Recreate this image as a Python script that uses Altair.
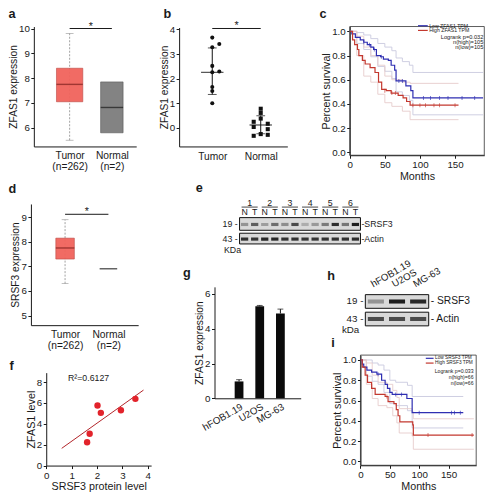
import altair as alt
import pandas as pd

S = 0.975
W, H = 477, 484
FONT = "Liberation Sans"
INK = "#1a1a1a"


def X(x):
    return round((x - 1.5) * S, 2)


def Y(y):
    return round((y - 4.0) * S, 2)


def F(sz):
    return round(sz * S, 2)


# ---------------- data ----------------
# a: ZFAS1 expression (GEPIA box plot)
a_tumor_box = [7.05, 7.75, 8.40]        # q1, median, q3
a_tumor_whisker = [5.50, 9.80]
a_normal_box = [5.80, 6.82, 7.85]
a_sig = 10.0
# b: ZFAS1 expression, tissue pairs
b_tumor = [3.67, 3.41, 3.28, 2.52, 2.26, 2.29, 1.66, 1.50, 1.00]
b_tumor_col = [0, 1, 0, 0, 0, 1, 0, 0, 0]
b_normal = [0.78, 0.61, 0.38, 0.25, 0.17, 0.04, -0.05, -0.32, -0.25, -0.28]
b_normal_col = [0, 0, 0, -1, 1, -1, 1, -1, 0, 1]
b_mean = [2.26, 0.12]
b_sd_low = [1.36, -0.24]
b_sd_high = [3.25, 0.50]
b_sig = 4.04
# c: survival by ZFAS1
c_low_t = [0, 3, 8, 15, 20, 25, 30, 34, 38, 44, 48, 55, 59, 64, 66, 72, 80, 87, 90, 190]
c_low_s = [1.0, 0.98, 0.95, 0.93, 0.91, 0.89, 0.87, 0.85, 0.80, 0.79, 0.77, 0.76, 0.72, 0.68, 0.59, 0.59, 0.55, 0.51, 0.45, 0.45]
c_high_t = [0, 4, 7, 11, 13, 18, 22, 29, 36, 41, 45.5, 52, 59, 69, 76, 81, 86, 155]
c_high_s = [1.0, 0.93, 0.89, 0.85, 0.80, 0.76, 0.73, 0.70, 0.66, 0.58, 0.52, 0.51, 0.49, 0.47, 0.45, 0.42, 0.39, 0.39]
c_low_ci_t = [0, 10, 20, 30, 40, 50, 60, 66, 75, 85, 90, 190]
c_low_ci_up = [1.0, 0.99, 0.97, 0.94, 0.90, 0.87, 0.84, 0.78, 0.75, 0.72, 0.66, 0.66]
c_low_ci_lo = [1.0, 0.90, 0.85, 0.79, 0.71, 0.67, 0.61, 0.50, 0.47, 0.43, 0.31, 0.31]
c_high_ci_t = [0, 10, 20, 30, 40, 50, 60, 75, 86, 155]
c_high_ci_up = [1.0, 0.96, 0.87, 0.80, 0.72, 0.63, 0.60, 0.58, 0.57, 0.57]
c_high_ci_lo = [1.0, 0.80, 0.63, 0.58, 0.48, 0.41, 0.38, 0.34, 0.27, 0.27]
c_low_cens_t = [20, 28, 35, 45, 70, 75, 105, 115, 128, 140, 160, 178]
c_low_cens_s = [0.91, 0.89, 0.85, 0.79, 0.59, 0.59, 0.45, 0.45, 0.45, 0.45, 0.45, 0.45]
c_high_cens_t = [50, 60, 65, 90, 100, 108, 120, 128, 150]
c_high_cens_s = [0.51, 0.49, 0.49, 0.39, 0.39, 0.39, 0.39, 0.39, 0.39]
# d: SRSF3 expression (GEPIA box plot)
d_tumor_box = [7.30, 7.75, 8.15]
d_tumor_whisker = [6.30, 8.90]
d_normal_level = 6.90
d_sig = 9.12
# e: western blot, 6 N/T pairs
e_pairs = ["1", "2", "3", "4", "5", "6"]
e_lanes = ["N", "T"] * 6
e_srsf3 = [0.35, 0.62, 0.30, 0.55, 0.38, 0.72, 0.22, 0.32, 0.48, 0.88, 0.50, 0.95]
e_actin = [0.85, 0.82, 0.90, 0.90, 0.85, 0.85, 0.82, 0.82, 0.85, 0.85, 0.85, 0.88]
# f: correlation
f_srsf3 = [1.61, 1.71, 2.02, 2.15, 2.94, 3.51]
f_zfas1 = [2.24, 3.05, 5.76, 5.05, 5.30, 6.39]
f_fit_x = [0.61, 3.83]
f_fit_y = [1.65, 7.23]
# g: cell lines
g_cells = ["hFOB1.19", "U2OS", "MG-63"]
g_vals = [0.97, 5.29, 4.88]
g_err = [0.10, 0.05, 0.25]
# h: western blot cell lines
h_srsf3 = [0.35, 0.95, 0.90]
h_actin = [0.72, 0.72, 0.72]
# i: survival by SRSF3
i_low_t = [0, 3, 5.6, 11, 19, 28, 36, 42, 46, 50, 54, 79, 88, 175]
i_low_s = [1.0, 0.96, 0.93, 0.90, 0.88, 0.86, 0.80, 0.76, 0.72, 0.68, 0.66, 0.62, 0.48, 0.48]
i_high_t = [0, 3, 8, 12, 19, 25, 42, 47, 57, 61, 64, 67, 89, 90, 193]
i_high_s = [1.0, 0.93, 0.85, 0.78, 0.72, 0.66, 0.64, 0.59, 0.57, 0.51, 0.45, 0.39, 0.36, 0.26, 0.26]
i_low_ci_t = [0, 10, 20, 30, 40, 50, 60, 80, 88, 175]
i_low_ci_up = [1.0, 1.0, 0.97, 0.95, 0.90, 0.80, 0.78, 0.75, 0.64, 0.64]
i_low_ci_lo = [1.0, 0.84, 0.79, 0.76, 0.68, 0.57, 0.55, 0.50, 0.33, 0.33]
i_high_ci_t = [0, 10, 20, 30, 45, 55, 62, 66, 88, 90, 193]
i_high_ci_up = [1.0, 0.97, 0.85, 0.78, 0.76, 0.70, 0.63, 0.52, 0.49, 0.42, 0.42]
i_high_ci_lo = [1.0, 0.76, 0.62, 0.55, 0.53, 0.45, 0.38, 0.28, 0.25, 0.12, 0.12]
i_low_cens_t = [30, 60, 70, 100, 155, 160, 170]
i_low_cens_s = [0.86, 0.66, 0.66, 0.48, 0.48, 0.48, 0.48]
i_high_cens_t = [45, 115, 190]
i_high_cens_s = [0.64, 0.26, 0.26]

RED_BOX = "#f1645c"
RED_EDGE = "#b9403a"
RED_MED = "#7d1f1c"
GRAY_BOX = "#838383"
KM_BLUE = "#2f2fb2"
KM_RED = "#c3382f"
CI_BLUE = "#cacadf"
CI_RED = "#e6cccc"
DOT_RED = "#e2232b"

one = pd.DataFrame({"k": [0]})


def axis_left(x_px, values, title, **kw):
    opts = dict(orient="left", offset=-X(x_px), values=values, title=title,
                tickSize=3, labelPadding=1.5, titlePadding=0, labelFlush=False,
                labelOverlap=False, labelBound=False)
    opts.update(kw)
    return alt.Axis(**opts)


def axis_bottom(y_px, values, title, **kw):
    opts = dict(orient="bottom", offset=round(Y(y_px) - H, 2), values=values, title=title,
                tickSize=3, labelPadding=1.5, titlePadding=2, labelFlush=False,
                labelOverlap=False, labelBound=False)
    opts.update(kw)
    return alt.Axis(**opts)


def text_at(txt, x_px, y_px, size=10, align="left", weight="normal", baseline="middle", angle=None):
    kw = dict(text=txt, fontSize=F(size), align=align, fontWeight=weight, baseline=baseline, color=INK, font=FONT)
    if angle is not None:
        kw["angle"] = angle
    return alt.Chart(one).mark_text(**kw).encode(x=alt.value(X(x_px)), y=alt.value(Y(y_px)))


def box_panel(xdom, xpx, ydom, ypx, yticks, ytitle, lab_expr, tbox, twhisk, tw, capw,
              nbox, nw, normal_line, sig):
    xs = alt.Scale(domain=xdom, range=[X(xpx[0]), X(xpx[1])], nice=False, zero=False)
    ys = alt.Scale(domain=ydom, range=[Y(ypx[0]), Y(ypx[1])], nice=False, zero=False)
    xa = axis_bottom(ypx[0], [0, 1], "", labelExpr=lab_expr, ticks=False, labelPadding=4,
                     labelLineHeight=F(11.5), labelFontSize=F(10.5), labelBaseline="top")
    ya = axis_left(xpx[0], yticks, ytitle)

    def ex(f):
        return alt.X(f"{f}:Q", scale=xs, axis=xa)

    def ey(f):
        return alt.Y(f"{f}:Q", scale=ys, axis=ya)

    layers = []
    wdf = pd.DataFrame({"pos": [0], "lo": [twhisk[0]], "hi": [twhisk[1]]})
    layers.append(alt.Chart(wdf).mark_rule(color="#8c8c8c", strokeWidth=0.8, strokeDash=[2, 1.5])
                  .encode(x=ex("pos"), y=ey("lo"), y2="hi:Q"))
    cdf = pd.DataFrame({"pos": [0, 0], "v": twhisk})
    layers.append(alt.Chart(cdf).mark_tick(orient="horizontal", size=capw, thickness=0.8, color="#8c8c8c")
                  .encode(x=ex("pos"), y=ey("v")))
    tdf = pd.DataFrame({"pos": [0], "q1": [tbox[0]], "med": [tbox[1]], "q3": [tbox[2]]})
    layers.append(alt.Chart(tdf).mark_bar(orient="vertical", size=tw, color=RED_BOX, stroke=RED_EDGE,
                                          strokeWidth=0.6, opacity=0.95)
                  .encode(x=ex("pos"), y=ey("q1"), y2="q3:Q"))
    layers.append(alt.Chart(tdf).mark_tick(orient="horizontal", size=tw, thickness=1.4, color=RED_MED)
                  .encode(x=ex("pos"), y=ey("med")))
    if normal_line:
        ndf = pd.DataFrame({"pos": [1], "med": [nbox]})
        layers.append(alt.Chart(ndf).mark_tick(orient="horizontal", size=nw, thickness=1.5, color="#222222")
                      .encode(x=ex("pos"), y=ey("med")))
    else:
        ndf = pd.DataFrame({"pos": [1], "q1": [nbox[0]], "med": [nbox[1]], "q3": [nbox[2]]})
        layers.append(alt.Chart(ndf).mark_bar(orient="vertical", size=nw, color=GRAY_BOX, stroke="#555555",
                                              strokeWidth=0.6)
                      .encode(x=ex("pos"), y=ey("q1"), y2="q3:Q"))
        layers.append(alt.Chart(ndf).mark_tick(orient="horizontal", size=nw, thickness=1.4, color="#1a1a1a")
                      .encode(x=ex("pos"), y=ey("med")))
    sdf = pd.DataFrame({"x1": [0], "x2": [1], "y": [sig], "mid": [0.5]})
    layers.append(alt.Chart(sdf).mark_rule(color=INK, strokeWidth=1)
                  .encode(x=ex("x1"), x2="x2:Q", y=ey("y")))
    layers.append(alt.Chart(sdf).mark_text(text="*", fontSize=F(11), baseline="middle", dy=-2, color=INK, font=FONT)
                  .encode(x=ex("mid"), y=ey("y")))
    return alt.layer(*layers)


def panel_b():
    xs = alt.Scale(domain=[-0.684, 1.549], range=[X(177), X(288)], nice=False, zero=False)
    ys = alt.Scale(domain=[-0.752, 4.08], range=[Y(146), Y(24)], nice=False, zero=False)
    xa = axis_bottom(146, [0, 1], "", labelExpr="datum.value == 0 ? 'Tumor' : 'Normal'",
                     ticks=False, labelPadding=5, labelFontSize=F(10.5), labelBaseline="top")
    ya = axis_left(177, [0, 1, 2, 3, 4], "ZFAS1 expression")

    def ex(f):
        return alt.X(f"{f}:Q", scale=xs, axis=xa)

    def ey(f):
        return alt.Y(f"{f}:Q", scale=ys, axis=ya)

    tdf = pd.DataFrame({"v": b_tumor, "col": b_tumor_col, "grp": 0})
    ndf = pd.DataFrame({"v": b_normal, "col": b_normal_col, "grp": 1})
    sdf = pd.DataFrame({"grp": [0, 1], "m": b_mean, "lo": b_sd_low, "hi": b_sd_high})
    sig = pd.DataFrame({"x1": [0], "x2": [1], "y": [b_sig], "mid": [0.5]})
    layers = [
        alt.Chart(tdf).transform_calculate(pos="datum.grp + datum.col * 0.145")
        .mark_circle(size=F(17), color="#111111", opacity=1).encode(x=ex("pos"), y=ey("v")),
        alt.Chart(ndf).transform_calculate(pos="datum.grp + datum.col * 0.145")
        .mark_square(size=F(17), color="#111111", opacity=1).encode(x=ex("pos"), y=ey("v")),
        alt.Chart(sdf).mark_rule(color="#111111", strokeWidth=1).encode(x=ex("grp"), y=ey("lo"), y2="hi:Q"),
        alt.Chart(sdf).mark_tick(orient="horizontal", size=F(23), thickness=1.3, color="#111111")
        .encode(x=ex("grp"), y=ey("m")),
        alt.Chart(sdf).mark_tick(orient="horizontal", size=F(9), thickness=1, color="#111111")
        .encode(x=ex("grp"), y=ey("lo")),
        alt.Chart(sdf).mark_tick(orient="horizontal", size=F(9), thickness=1, color="#111111")
        .encode(x=ex("grp"), y=ey("hi")),
        alt.Chart(sig).mark_rule(color=INK, strokeWidth=1).encode(x=ex("x1"), x2="x2:Q", y=ey("y")),
        alt.Chart(sig).mark_text(text="*", fontSize=F(11), baseline="middle", dy=-2, color=INK, font=FONT)
        .encode(x=ex("mid"), y=ey("y")),
    ]
    return alt.layer(*layers)


def km_panel(xmax, xpx, ypx, ydom, curves, cis, censors, legend_lines, legend_texts):
    xs = alt.Scale(domain=[0, xmax], range=[X(xpx[0]), X(xpx[1])], nice=False, zero=False)
    ys = alt.Scale(domain=ydom, range=[Y(ypx[0]), Y(ypx[1])], nice=False, zero=False)
    xa = axis_bottom(ypx[0], [0, 50, 100, 150], "Months", titleFontSize=F(11))
    ya = axis_left(xpx[0], [0.0, 0.2, 0.4, 0.6, 0.8, 1.0], "Percent survival", format=".1f",
                   titleFontSize=F(11))

    def ex(f):
        return alt.X(f"{f}:Q", scale=xs, axis=xa)

    def ey(f):
        return alt.Y(f"{f}:Q", scale=ys, axis=ya)

    layers = []
    for t, s, col in cis:
        df = pd.DataFrame({"t": t, "s": s})
        layers.append(alt.Chart(df).mark_line(interpolate="step-after", color=col, strokeWidth=0.9)
                      .encode(x=ex("t"), y=ey("s")))
    for t, s, col in curves:
        df = pd.DataFrame({"t": t, "s": s})
        layers.append(alt.Chart(df).mark_line(interpolate="step-after", color=col, strokeWidth=1.2)
                      .encode(x=ex("t"), y=ey("s")))
    for t, s, col in censors:
        df = pd.DataFrame({"t": t, "s": s})
        layers.append(alt.Chart(df).mark_tick(orient="vertical", size=4, thickness=0.9, color=col)
                      .encode(x=ex("t"), y=ey("s")))
    frame = pd.DataFrame({"x0": [0], "x1": [xmax], "y0": [ydom[0]], "y1": [ydom[1]]})
    layers.append(alt.Chart(frame).mark_rect(filled=False, stroke="#333333", strokeWidth=0.8)
                  .encode(x=ex("x0"), x2="x1:Q", y=ey("y0"), y2="y1:Q"))
    for x0, x1, y, col in legend_lines:
        layers.append(alt.Chart(one).mark_rule(color=col, strokeWidth=1.2)
                      .encode(x=alt.value(X(x0)), x2=alt.value(X(x1)), y=alt.value(Y(y))))
    for txt, x, y, align, size in legend_texts:
        layers.append(text_at(txt, x, y, size=size, align=align))
    return alt.layer(*layers)


def blot_panel(n, xpx, ypx, srsf3, actin, boxes, centers, half, inset):
    xs = alt.Scale(domain=[0, n], range=[X(xpx[0]), X(xpx[1])], nice=False, zero=False)
    ys = alt.Scale(domain=[0, 1], range=[Y(ypx[0]), Y(ypx[1])], nice=False, zero=False)

    def ex(f):
        return alt.X(f"{f}:Q", scale=xs, axis=None)

    def ey(f):
        return alt.Y(f"{f}:Q", scale=ys, axis=None)

    bdf = pd.DataFrame({"x0": [0, 0], "x1": [n, n], "y0": [boxes[0][0], boxes[1][0]],
                        "y1": [boxes[0][1], boxes[1][1]]})
    lanes = list(range(n))
    band = pd.DataFrame({
        "l0": [i + inset for i in lanes] * 2,
        "l1": [i + 1 - inset for i in lanes] * 2,
        "b0": [centers[0] - half] * n + [centers[1] - half] * n,
        "b1": [centers[0] + half] * n + [centers[1] + half] * n,
        "a": list(actin) + list(srsf3),
    })
    return bdf, band, ex, ey


def panel_e():
    bdf, band, ex, ey = blot_panel(12, (239, 363), (246, 219), e_srsf3, e_actin,
                                   [(0, 0.407), (0.519, 1.0)], (0.185, 0.74), 0.06, 0.14)
    layers = [
        alt.Chart(bdf).mark_rect(fill="#d9d9d9", stroke="#111111", strokeWidth=1)
        .encode(x=ex("x0"), x2="x1:Q", y=ey("y0"), y2="y1:Q"),
        alt.Chart(band).mark_rect(fill="#141414")
        .encode(x=ex("l0"), x2="l1:Q", y=ey("b0"), y2="b1:Q",
                opacity=alt.Opacity("a:Q", scale=None, legend=None)),
    ]
    pair = pd.DataFrame({"p": e_pairs, "c": [2 * i + 1 for i in range(6)],
                         "u0": [2 * i + 0.2 for i in range(6)], "u1": [2 * i + 1.8 for i in range(6)],
                         "ty": 1.55, "uy": 1.40})
    lanes = pd.DataFrame({"t": e_lanes, "c": [i + 0.5 for i in range(12)], "ty": 1.2})
    layers += [
        alt.Chart(pair).mark_text(fontSize=F(9), color=INK, font=FONT, baseline="middle")
        .encode(x=ex("c"), y=ey("ty"), text="p:N"),
        alt.Chart(pair).mark_rule(color=INK, strokeWidth=0.8).encode(x=ex("u0"), x2="u1:Q", y=ey("uy")),
        alt.Chart(lanes).mark_text(fontSize=F(9), color=INK, font=FONT, baseline="middle")
        .encode(x=ex("c"), y=ey("ty"), text="t:N"),
        text_at("19 -", 237, 226, size=9, align="right"),
        text_at("43 -", 237, 241, size=9, align="right"),
        text_at("KDa", 223, 252.5, size=9, align="left"),
        text_at("-SRSF3", 364, 226, size=9, align="left"),
        text_at("-Actin", 364, 241, size=9, align="left"),
    ]
    return alt.layer(*layers)


def panel_h():
    bdf, band, ex, ey = blot_panel(3, (368, 433), (330, 298), h_srsf3, h_actin,
                                   [(0, 0.4375), (0.5625, 1.0)], (0.22, 0.78), 0.065, 0.12)
    labels = pd.DataFrame({"t": g_cells, "c": [i + 0.42 for i in range(3)], "ty": 1.17})
    layers = [
        alt.Chart(bdf).mark_rect(fill="#d9d9d9", stroke="#111111", strokeWidth=1)
        .encode(x=ex("x0"), x2="x1:Q", y=ey("y0"), y2="y1:Q"),
        alt.Chart(band).mark_rect(fill="#141414")
        .encode(x=ex("l0"), x2="l1:Q", y=ey("b0"), y2="b1:Q",
                opacity=alt.Opacity("a:Q", scale=None, legend=None)),
        alt.Chart(labels).mark_text(fontSize=F(10), color=INK, font=FONT, align="left",
                                    baseline="bottom", angle=330)
        .encode(x=ex("c"), y=ey("ty"), text="t:N"),
        text_at("19 -", 366, 305, size=10, align="right"),
        text_at("43 -", 366, 323, size=10, align="right"),
        text_at("kDa", 344, 334.5, size=10, align="left"),
        text_at("- SRSF3", 435, 305, size=10.5, align="left"),
        text_at("- Actin", 435, 323, size=10.5, align="left"),
    ]
    return alt.layer(*layers)


def panel_f():
    xs = alt.Scale(domain=[0, 4.13], range=[X(40.7), X(148.3)], nice=False, zero=False)
    ys = alt.Scale(domain=[0, 8.9], range=[Y(473.3), Y(378)], nice=False, zero=False)
    xa = axis_bottom(473.3, [0, 1, 2, 3, 4], "SRSF3 protein level", titleFontSize=F(11))
    ya = axis_left(40.7, [0, 2, 4, 6, 8], "ZFAS1 level", titleFontSize=F(11))
    pts = pd.DataFrame({"x": f_srsf3, "y": f_zfas1})
    fit = pd.DataFrame({"x": f_fit_x, "y": f_fit_y})
    layers = [
        alt.Chart(fit).mark_line(color="#b3262b", strokeWidth=1)
        .encode(x=alt.X("x:Q", scale=xs, axis=xa), y=alt.Y("y:Q", scale=ys, axis=ya)),
        alt.Chart(pts).mark_circle(size=F(42), color=DOT_RED, opacity=1)
        .encode(x=alt.X("x:Q", scale=xs, axis=xa), y=alt.Y("y:Q", scale=ys, axis=ya)),
        text_at("R²=0.6127", 63, 383, size=9, align="left"),
    ]
    return alt.layer(*layers)


def panel_g():
    xs = alt.Scale(domain=[-0.946, 2.74], range=[X(213.3), X(301.7)], nice=False, zero=False)
    ys = alt.Scale(domain=[0, 6.41], range=[Y(404.3), Y(290)], nice=False, zero=False)
    xa = axis_bottom(404.3, [0, 1, 2], "", ticks=False, labelPadding=3, labelAngle=330,
                     labelAlign="right", labelBaseline="top", labelFontSize=F(10),
                     labelExpr="['hFOB1.19', 'U2OS', 'MG-63'][datum.value]")
    ya = axis_left(213.3, [0, 2, 4, 6], "ZFAS1 expression", titleFontSize=F(10.5))
    df = pd.DataFrame({"i": [0, 1, 2], "v": g_vals, "e": g_err})
    df["hi"] = df["v"] + df["e"]
    ex = alt.X("i:Q", scale=xs, axis=xa)
    layers = [
        alt.Chart(df).mark_rule(color="#111111", strokeWidth=1)
        .encode(x=ex, y=alt.Y("v:Q", scale=ys, axis=ya), y2="hi:Q"),
        alt.Chart(df).mark_tick(orient="horizontal", size=F(6), thickness=1, color="#111111")
        .encode(x=ex, y=alt.Y("hi:Q", scale=ys, axis=ya)),
        alt.Chart(df).mark_bar(orient="vertical", size=F(9), color="#0b0b0b")
        .encode(x=ex, y=alt.Y("v:Q", scale=ys, axis=ya)),
    ]
    return alt.layer(*layers)


pa = box_panel([-0.729, 1.458], (28, 133), [5.25, 10.08], (146, 23), [6, 7, 8, 9, 10],
               "ZFAS1 expression",
               "datum.value == 0 ? ['Tumor', '(n=262)'] : ['Normal', '(n=2)']",
               a_tumor_box, a_tumor_whisker, F(27), F(8), a_normal_box, F(23), False, a_sig)
pd_ = box_panel([-0.673, 1.571], (25, 135), [4.61, 9.54], (329.3, 205), [5, 6, 7, 8, 9],
                "SRSF3 expression",
                "datum.value == 0 ? ['Tumor', '(n=262)'] : ['Normal', '(n=2)']",
                d_tumor_box, d_tumor_whisker, F(19), F(7), d_normal_level, F(18), True, d_sig)

pc = km_panel(191.7, (352, 490), (155, 23), [-0.024, 1.04],
              [(c_low_t, c_low_s, KM_BLUE), (c_high_t, c_high_s, KM_RED)],
              [(c_low_ci_t, c_low_ci_up, CI_BLUE), (c_low_ci_t, c_low_ci_lo, CI_BLUE),
               (c_high_ci_t, c_high_ci_up, CI_RED), (c_high_ci_t, c_high_ci_lo, CI_RED)],
              [(c_low_cens_t, c_low_cens_s, KM_BLUE), (c_high_cens_t, c_high_cens_s, KM_RED)],
              [(422, 432, 22.2, KM_BLUE), (422, 432, 27.0, KM_RED)],
              [("Low ZFAS1 TPM", 433.5, 22.2, "left", 5.3), ("High ZFAS1 TPM", 433.5, 27.0, "left", 5.3),
               ("Logrank p=0.032", 489, 33.5, "right", 5.8), ("n(high)=105", 489, 38.9, "right", 5.8),
               ("n(low)=105", 489, 44.2, "right", 5.8)])

pi = km_panel(197, (363, 481.7), (473, 360), [-0.038, 1.048],
              [(i_low_t, i_low_s, KM_BLUE), (i_high_t, i_high_s, KM_RED)],
              [(i_low_ci_t, i_low_ci_up, CI_BLUE), (i_low_ci_t, i_low_ci_lo, CI_BLUE),
               (i_high_ci_t, i_high_ci_up, CI_RED), (i_high_ci_t, i_high_ci_lo, CI_RED)],
              [(i_low_cens_t, i_low_cens_s, KM_BLUE), (i_high_cens_t, i_high_cens_s, KM_RED)],
              [(430, 438, 363.3, KM_BLUE), (430, 438, 368.2, KM_RED)],
              [("Low SRSF3 TPM", 439.5, 363.3, "left", 4.9), ("High SRSF3 TPM", 439.5, 368.2, "left", 4.9),
               ("Logrank p=0.033", 479, 376.5, "right", 5.3), ("n(high)=66", 479, 382.3, "right", 5.3),
               ("n(low)=66", 479, 388.3, "right", 5.3)])

letters = alt.layer(
    text_at("a", 2, 3.5, size=13, weight="bold", baseline="top"),
    text_at("b", 161, 3.5, size=13, weight="bold", baseline="top"),
    text_at("c", 321, 3.5, size=13, weight="bold", baseline="top"),
    text_at("d", 2, 183, size=13, weight="bold", baseline="top"),
    text_at("e", 194, 182, size=13, weight="bold", baseline="top"),
    text_at("f", 3, 365, size=13, weight="bold", baseline="top"),
    text_at("g", 181, 270, size=13, weight="bold", baseline="top"),
    text_at("h", 329, 273, size=13, weight="bold", baseline="top"),
    text_at("i", 333, 341, size=13, weight="bold", baseline="top"),
)

chart = (
    alt.layer(pa, panel_b(), pc, pd_, panel_e(), panel_f(), panel_g(), panel_h(), pi, letters)
    .resolve_scale(x="independent", y="independent")
    .resolve_axis(x="independent", y="independent")
    .properties(width=W, height=H, autosize=alt.AutoSizeParams(type="none"), padding=0)
    .configure_view(stroke=None)
    .configure_axis(grid=False, domainColor=INK, tickColor=INK, labelColor=INK, titleColor=INK,
                    labelFont=FONT, titleFont=FONT, labelFontSize=F(10), titleFontSize=F(10.5),
                    titleFontWeight="normal", domainWidth=1, tickWidth=1)
    .configure_text(font=FONT)
)

chart.save("out.html", embed_options={"renderer": "svg", "actions": False})
